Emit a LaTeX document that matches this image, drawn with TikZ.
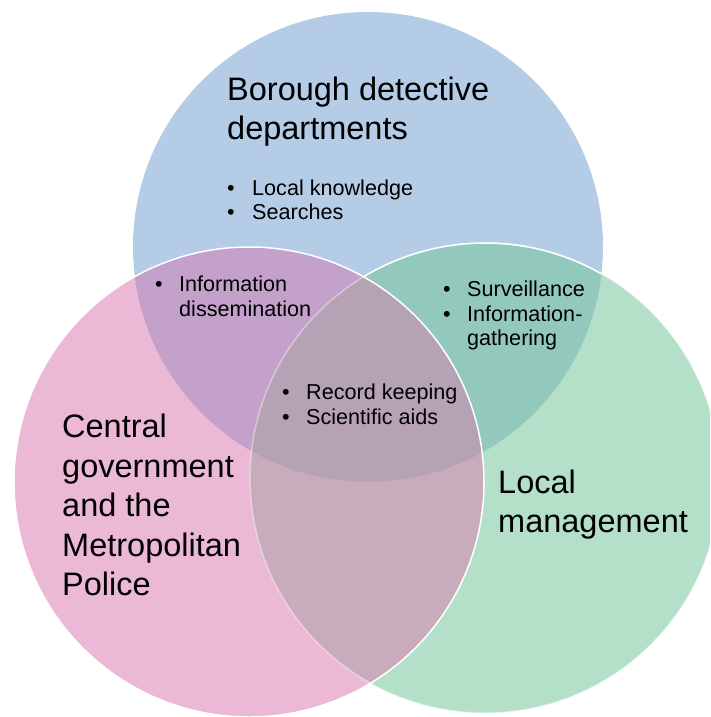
\documentclass[tikz,border=0pt]{standalone}
\usepackage{fontspec}
\setmainfont{Liberation Sans}
\begin{document}
\begin{tikzpicture}[x=1pt,y=-1pt,
  bigtext/.style={font=\fontsize{32.5}{39}\selectfont, inner sep=0pt, anchor=base west, text=black},
  smalltext/.style={font=\fontsize{21.6}{25}\selectfont, inner sep=0pt, anchor=base west, text=black},
  edge/.style={white, line width=1.5pt}]
\definecolor{cblue}{HTML}{B4CCE6}
\definecolor{cpink}{HTML}{EBB9D5}
\definecolor{cgreen}{HTML}{B4DFC9}
\definecolor{cpurple}{HTML}{C4A1CB}
\definecolor{cteal}{HTML}{93C8BC}
\definecolor{cpg}{HTML}{C9ACBB}
\definecolor{ctriple}{HTML}{B6A2B5}
\useasboundingbox (0,0) rectangle (710,717);
\clip (0,0) rectangle (710,717);
\def\R{235}
\coordinate (B) at (368,247);
\coordinate (P) at (249,482);
\coordinate (G) at (485,478);

% base discs
\fill[cblue] (B) circle[radius=\R];
\fill[cgreen] (G) circle[radius=\R];
\fill[cpink] (P) circle[radius=\R];
% pairwise overlaps
\begin{scope}
  \clip (B) circle[radius=\R];
  \fill[cpurple] (P) circle[radius=\R];
  \fill[cteal] (G) circle[radius=\R];
\end{scope}
\begin{scope}
  \clip (P) circle[radius=\R];
  \fill[cpg] (G) circle[radius=\R];
  \clip (B) circle[radius=\R];
  \fill[ctriple] (G) circle[radius=\R];
\end{scope}

% white outlines
\draw[edge, opacity=0.4] (G) circle[radius=\R];
\begin{scope}
  \clip (B) circle[radius=\R];
  \begin{scope}[even odd rule]
    \clip (0,0) rectangle (710,717) (P) circle[radius=\R];
    \draw[edge] (G) circle[radius=\R];
  \end{scope}
\end{scope}
\draw[edge] (P) circle[radius=\R];

% top circle
\node[bigtext] (bt1) at (227,100) {Borough detective};
\node[bigtext] (bt2) at (227,139) {departments};
\node[smalltext] (bd1) at (227,195) {•};
\node[smalltext] (bx1) at (252,195) {Local knowledge};
\node[smalltext] (bd2) at (227,219) {•};
\node[smalltext] (bx2) at (252,219) {Searches};

% top-left overlap
\node[smalltext] (pd1) at (155,291) {•};
\node[smalltext] (px1) at (179,291) {Information};
\node[smalltext] (px2) at (179,316) {dissemination};

% top-right overlap
\node[smalltext] (gd1) at (443,296) {•};
\node[smalltext] (gx1) at (467,296) {Surveillance};
\node[smalltext] (gd2) at (443,321) {•};
\node[smalltext] (gx2) at (467,321) {Information-};
\node[smalltext] (gx3) at (467,345) {gathering};

% centre
\node[smalltext] (cd1) at (282,399) {•};
\node[smalltext] (cx1) at (306,399) {Record keeping};
\node[smalltext] (cd2) at (282,424) {•};
\node[smalltext] (cx2) at (306,424) {Scientific aids};

% left circle
\node[bigtext] (lt1) at (62,437.5) {Central};
\node[bigtext] (lt2) at (62,477) {government};
\node[bigtext] (lt3) at (62,516.5) {and the};
\node[bigtext] (lt4) at (62,556) {Metropolitan};
\node[bigtext] (lt5) at (62,595.5) {Police};

% right circle
\node[bigtext] (rt1) at (498,493) {Local};
\node[bigtext] (rt2) at (498,532) {management};
\end{tikzpicture}
\end{document}
